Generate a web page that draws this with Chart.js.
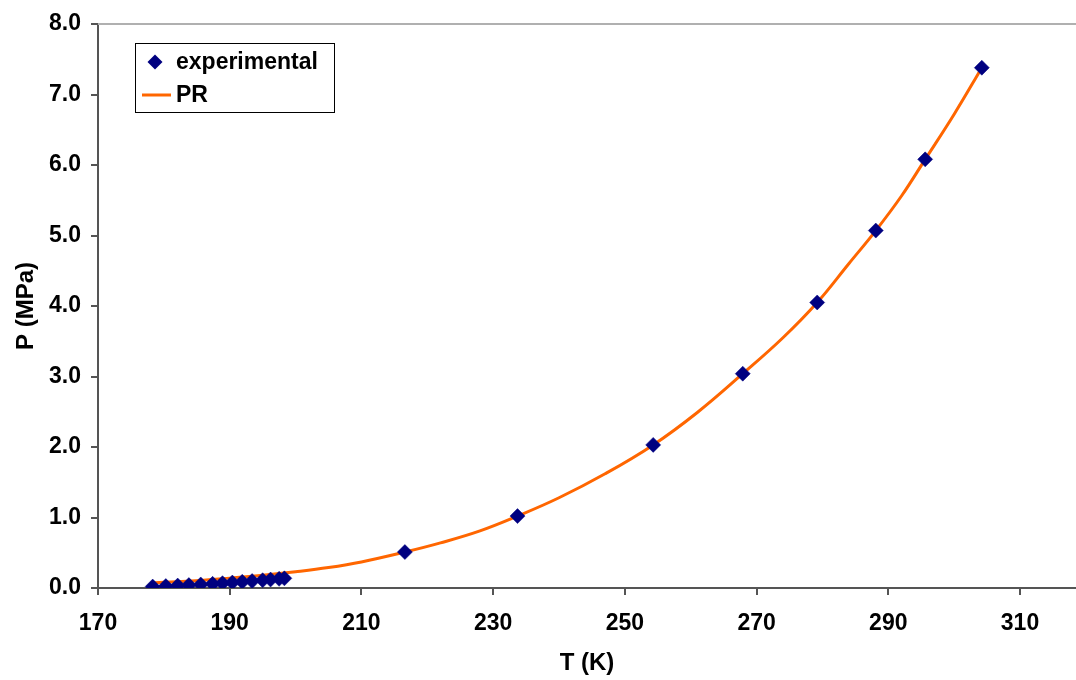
<!DOCTYPE html>
<html>
<head>
<meta charset="utf-8">
<script src="https://cdn.jsdelivr.net/npm/chart.js@4.4.0/dist/chart.umd.min.js"></script>
<style>
  html, body { margin: 0; padding: 0; background: #fff; }
  #wrap { width: 1076px; height: 680px; position: relative; }
</style>
</head>
<body>
<div id="wrap"><canvas id="chart"></canvas></div>
<script>
// experimental points
const expT = [178.3, 180.3, 182.1, 183.8, 185.6, 187.4, 188.9, 190.4, 191.9, 193.4, 195.0, 196.2, 197.5, 198.3,
  216.6, 233.7, 254.3, 267.9, 279.2, 288.1, 295.6, 304.2];
const expP = [0.02, 0.027, 0.034, 0.041, 0.05, 0.059, 0.068, 0.077, 0.087, 0.098, 0.11, 0.12, 0.13, 0.137,
  0.51, 1.02, 2.03, 3.04, 4.05, 5.07, 6.08, 7.38];

// PR curve
const prT = [178, 182, 186, 190, 195, 200, 205, 210, 216.6, 222, 228, 233.7, 240, 247, 254.3, 261, 267.9,
  274, 279.2, 284, 288.1, 292, 295.6, 300, 304.2];
const prP = [0.07, 0.09, 0.11, 0.14, 0.18, 0.23, 0.29, 0.37, 0.51, 0.64, 0.81, 1.02, 1.28, 1.62, 2.03, 2.49, 3.04,
  3.55, 4.05, 4.6, 5.07, 5.56, 6.08, 6.72, 7.38];

const xTicks = [170, 190, 210, 230, 250, 270, 290, 310];
const yTicks = [0, 1, 2, 3, 4, 5, 6, 7, 8];

const NAVY = '#000080';
const ORANGE = '#FF6600';
const AXIS = '#555555';
const FAMILY = 'Liberation Sans, Arial, sans-serif';
const TICK_FONT = { family: FAMILY, size: 23, weight: 'bold' };
const TITLE_FONT = { family: FAMILY, size: 24, weight: 'bold' };

// top border of the plot area + boxed legend
const frame = {
  id: 'frame',
  afterDraw(chart) {
    const ctx = chart.ctx;
    const a = chart.chartArea;
    ctx.save();
    ctx.strokeStyle = '#b0b0b0';
    ctx.lineWidth = 2;
    ctx.beginPath();
    ctx.moveTo(a.left, a.top);
    ctx.lineTo(a.right, a.top);
    ctx.stroke();

    // legend box
    ctx.strokeStyle = '#000';
    ctx.lineWidth = 1;
    ctx.fillStyle = '#fff';
    ctx.fillRect(135.5, 43.5, 199, 69);
    ctx.strokeRect(135.5, 43.5, 199, 69);

    const ds = chart.data.datasets;
    // diamond
    ctx.fillStyle = NAVY;
    ctx.beginPath();
    ctx.moveTo(155 - 7.5, 62);
    ctx.lineTo(155, 62 - 7.5);
    ctx.lineTo(155 + 7.5, 62);
    ctx.lineTo(155, 62 + 7.5);
    ctx.closePath();
    ctx.fill();
    // line
    ctx.strokeStyle = ORANGE;
    ctx.lineWidth = 3;
    ctx.beginPath();
    ctx.moveTo(142, 95);
    ctx.lineTo(171, 95);
    ctx.stroke();

    ctx.fillStyle = '#000';
    ctx.font = 'bold 23px ' + FAMILY;
    ctx.textBaseline = 'middle';
    ctx.textAlign = 'left';
    ctx.fillText(ds[0].label, 176, 63);
    ctx.fillText(ds[1].label, 176, 96);
    ctx.restore();
  }
};

new Chart(document.getElementById('chart'), {
  type: 'scatter',
  data: {
    datasets: [
      {
        label: 'experimental',
        data: expT.map((t, i) => ({ x: t, y: expP[i] })),
        pointStyle: 'rectRot',
        pointRadius: 7.5,
        pointBackgroundColor: NAVY,
        pointBorderColor: NAVY,
        pointBorderWidth: 0.5,
        showLine: false
      },
      {
        label: 'PR',
        type: 'line',
        data: prT.map((t, i) => ({ x: t, y: prP[i] })),
        borderColor: ORANGE,
        borderWidth: 3,
        pointRadius: 0,
        fill: false,
        tension: 0.4
      }
    ]
  },
  options: {
    responsive: true,
    maintainAspectRatio: false,
    animation: false,
    layout: { autoPadding: false, padding: { top: 24, right: 0, left: 0, bottom: 0 } },
    plugins: { legend: { display: false }, tooltip: { enabled: false } },
    scales: {
      x: {
        type: 'linear',
        min: 170,
        max: 318.5,
        afterBuildTicks: s => { s.ticks = xTicks.map(v => ({ value: v })); },
        afterFit: s => { s.height = 92; },
        ticks: { font: TICK_FONT, color: '#000', padding: 15, maxRotation: 0, autoSkip: false },
        grid: { drawOnChartArea: false, tickLength: 7, color: AXIS, lineWidth: 2 },
        border: { color: AXIS, width: 2 },
        title: { display: true, text: 'T (K)', font: TITLE_FONT, color: '#000', padding: { top: 4, bottom: 2 } }
      },
      y: {
        min: 0,
        max: 8,
        afterBuildTicks: s => { s.ticks = yTicks.map(v => ({ value: v })); },
        afterFit: s => { s.width = 98; },
        ticks: { font: TICK_FONT, color: '#000', padding: 10, callback: v => v.toFixed(1) },
        grid: { drawOnChartArea: false, tickLength: 7, color: AXIS, lineWidth: 2 },
        border: { color: AXIS, width: 2 },
        title: { display: true, text: 'P (MPa)', font: TITLE_FONT, color: '#000', padding: { top: 12, bottom: 4 } }
      }
    }
  },
  plugins: [frame]
});
</script>
</body>
</html>
